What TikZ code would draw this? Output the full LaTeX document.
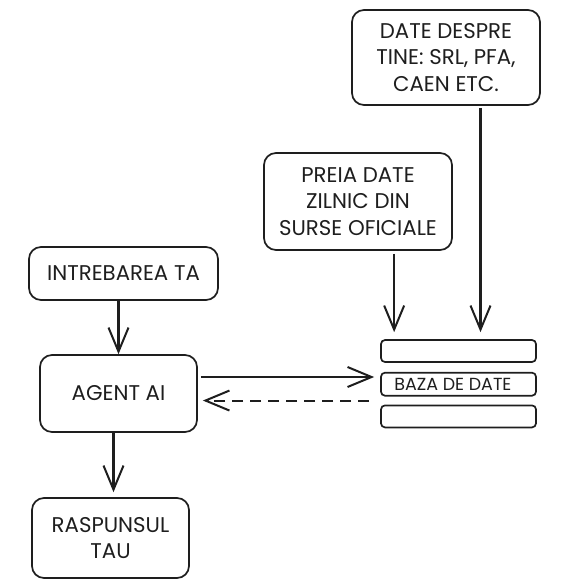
\documentclass[tikz,border=0pt]{standalone}
\usepackage{fontspec}
\setmainfont{Poppins}
\usetikzlibrary{positioning, arrows.meta, calc}
\definecolor{ink}{HTML}{1e1e1e}

\begin{document}
\begin{tikzpicture}[x=1pt, y=-1pt,
    box/.style={draw=ink, line width=1.7pt, rounded corners=12pt, minimum width=#1, align=center, inner sep=0pt, text=ink, font=\fontsize{21.3}{26.5}\selectfont},
    bar/.style={draw=ink, line width=1.7pt, rounded corners=4pt, minimum width=155pt, minimum height=22pt, inner sep=0pt},
    arr/.style={-{Straight Barb[length=24pt, width=20pt, line width=2pt]}, line width=2.6pt, color=ink},
]
\useasboundingbox (0,0) rectangle (568,587);
\node[box=188pt, minimum height=95pt] (about) at (446,57.5) {DATE DESPRE\\TINE: SRL, PFA,\\CAEN ETC.};
\node[box=188pt, minimum height=97pt] (daily) at (358,201.5) {PREIA DATE\\ZILNIC DIN\\SURSE OFICIALE};
\node[box=189pt, minimum height=53pt] (question) at (123.5,273.5) {INTREBAREA TA};
\node[box=157pt, minimum height=77pt] (agent) at (118.5,393.5) {AGENT AI};
\node[box=157pt, minimum height=80pt] (answer) at (110.5,538) {RASPUNSUL\\TAU};
\node[bar] (dbtop) at (458.5,351) {};
\node[bar, minimum height=23pt, below=9pt of dbtop] (dbmid) {};
\node[bar, below=8pt of dbmid] (dbbot) {};
\node[anchor=west, inner sep=0pt, text=ink, font=\fontsize{17.5}{20}\selectfont] (dblabel) at ([xshift=14pt]dbmid.west) {BAZA DE DATE};
\draw[arr] (question.south -| agent.north) -- (agent.north);
\draw[arr, shorten >=5pt] ([xshift=-5pt]agent.south) -- ([xshift=-5pt]agent.south |- answer.north);
\draw[arr, shorten <=3pt, shorten >=7pt] ([xshift=14pt]dbtop.north west |- daily.south) -- ([xshift=14pt]dbtop.north west);
\draw[arr, shorten <=2pt, shorten >=7pt] ([xshift=22pt]dbtop.north |- about.south) -- ([xshift=22pt]dbtop.north);
\draw[arr, shorten <=3pt, shorten >=6pt] ([yshift=16.5pt]agent.east) -- ([yshift=16.5pt]agent.east -| dbmid.west);
\draw[arr, line width=2pt, dash pattern=on 11pt off 7pt, shorten >=5pt] ([xshift=-11pt, yshift=-4pt]dbmid.south west) -- ([yshift=-4pt]dbmid.south west -| agent.east);
\end{tikzpicture}
\end{document}
